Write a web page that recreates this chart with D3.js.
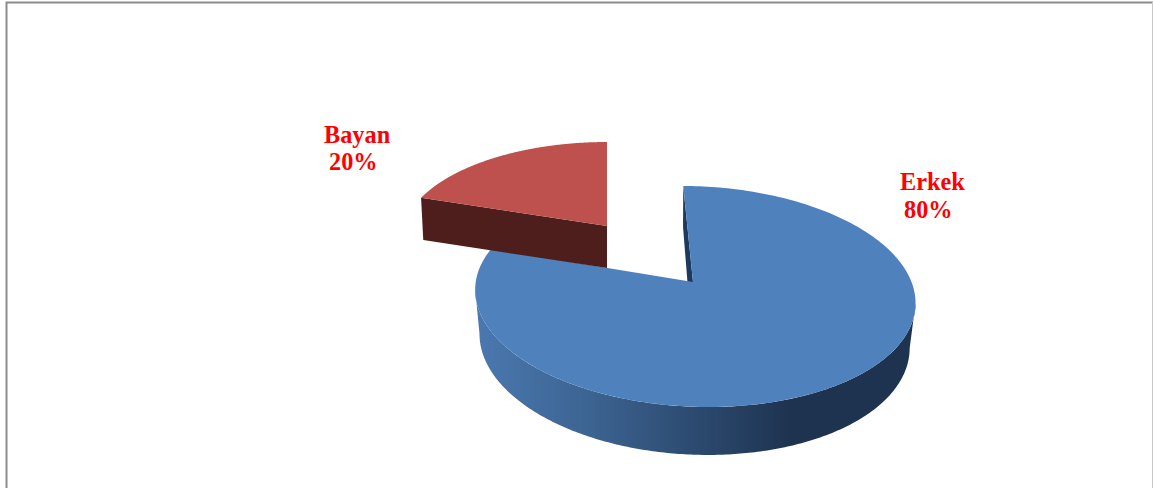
<!DOCTYPE html>
<html>
<head>
<meta charset="utf-8">
<script src="https://cdn.jsdelivr.net/npm/d3@7"></script>
<style>
html,body{margin:0;padding:0;background:#fff;overflow:hidden}
svg{display:block}
text{font-family:"Liberation Serif",serif;font-weight:bold;font-size:24.3px;fill:#ff0000}
</style>
</head>
<body>
<svg id="chart" width="1153" height="488"></svg>
<script>
// Gender split of respondents
const categories = ["Erkek", "Bayan"];
const percents = [80, 20];

// Perspective parameters of each slice's top and bottom rims
const erkekTop  = {x:693, y:282, rx:218, ry:108.6, k:0.131, m:0.004, sk:-11, ty:1};
const erkekBase = {x:691, y:326, rx:213, ry:112,   k:0.131, m:0.011, sk:-9,  ty:2};
const bayanTop  = {x:607, y:226, rx:203.4, ry:95,  k:0.131, m:0,     sk:0,   ty:0};
const bayanBase = {x:607, y:268, rx:201,   ry:94,  k:0.131, m:0,     sk:0,   ty:0};

const labelSpots = [
  {x:900, y:190, x2:904, y2:218},
  {x:324, y:142.5, x2:329, y2:170}
];

const svg = d3.select("#chart");
const W = 1153, H = 488;

// Horizontal shading of the curved outer wall
const defs = svg.append("defs");
const wallGrad = defs.append("linearGradient")
  .attr("id", "wallShade").attr("gradientUnits", "userSpaceOnUse")
  .attr("x1", 475).attr("x2", 915).attr("y1", 0).attr("y2", 0);
[[0, "#4a78b0"], [0.25, "#3d6593"], [0.5, "#2c4a70"], [0.72, "#1e334f"], [1, "#1e334f"]]
  .forEach(([o, c]) => wallGrad.append("stop").attr("offset", o).attr("stop-color", c));

// Maps a pie angle (clockwise from 12 o'clock) onto a tilted, foreshortened disc
function rim(a, p) {
  const u = Math.sin(a), v = Math.cos(a);
  const w = 1 + p.k * v - p.m * u;
  return [p.x + (p.rx * u + p.sk * v) / w, p.y + (-p.ry * v + p.ty * u) / w];
}
const arcPts = (a0, a1, p) => d3.range(0, 241).map(i => rim(a0 + (a1 - a0) * i / 240, p));
const poly = d3.line().curve(d3.curveLinear);

// The front wall runs between the leftmost and rightmost points of a rim
function frontRim(p) {
  const pts = d3.range(0, 1441).map(i => ({a: i / 1440 * 2 * Math.PI, pt: rim(i / 1440 * 2 * Math.PI, p)}));
  const right = d3.greatest(pts, d => d.pt[0]).a;
  const left = d3.least(pts, d => d.pt[0]).a;
  return arcPts(right, left, p);
}

const slices = d3.pie().sort(null).value(d => d)(percents);
const [erkek, bayan] = slices;

// Frame
svg.append("path").attr("d", `M6.5 ${H}V2.5H${W}`).attr("fill", "none").attr("stroke", "#8c8c8c").attr("stroke-width", 2);
svg.append("path").attr("d", `M${W - 0.5} 2V${H}`).attr("fill", "none").attr("stroke", "#c8c8c8").attr("stroke-width", 1);

// Large slice: outer wall, inner cut wall, then the top face
svg.append("path")
  .attr("d", poly([...frontRim(erkekTop), ...frontRim(erkekBase).reverse()]) + "Z")
  .attr("fill", "url(#wallShade)");
svg.append("path")
  .attr("d", poly([rim(erkek.startAngle, erkekTop), [erkekTop.x, erkekTop.y], [erkekBase.x, erkekBase.y], rim(erkek.startAngle, erkekBase)]) + "Z")
  .attr("fill", "#1c3a5e");
svg.append("path")
  .attr("d", poly([[erkekTop.x, erkekTop.y], ...arcPts(erkek.startAngle, erkek.endAngle, erkekTop)]) + "Z")
  .attr("fill", "#4f81bd");

// Exploded slice: cut wall and top face
svg.append("path")
  .attr("d", poly([rim(bayan.startAngle, bayanTop), [bayanTop.x, bayanTop.y], [bayanBase.x, bayanBase.y], rim(bayan.startAngle, bayanBase)]) + "Z")
  .attr("fill", "#4e1e1c");
svg.append("path")
  .attr("d", poly([[bayanTop.x, bayanTop.y], ...arcPts(bayan.startAngle, bayan.endAngle, bayanTop)]) + "Z")
  .attr("fill", "#be504d");

// Category and percentage labels
categories.forEach((name, i) => {
  const s = labelSpots[i];
  svg.append("text").attr("x", s.x).attr("y", s.y).text(name);
  svg.append("text").attr("x", s.x2).attr("y", s.y2).text(percents[i] + "%");
});
</script>
</body>
</html>
